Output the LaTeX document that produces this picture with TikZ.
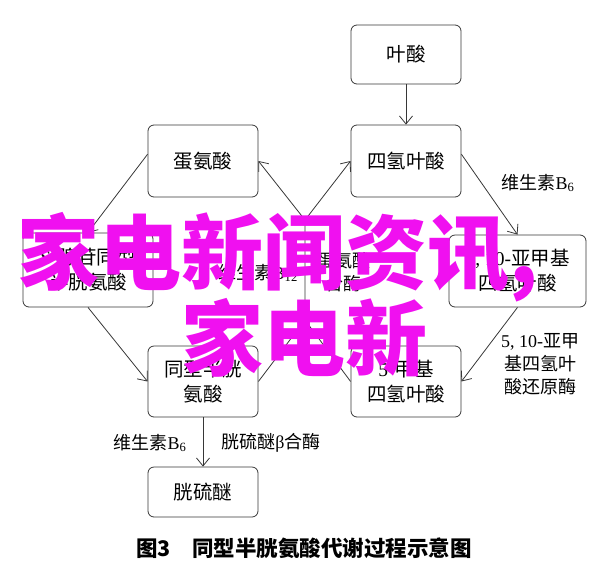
\documentclass[tikz,border=0pt]{standalone}
\usepackage{fontspec}
\setmainfont{Liberation Serif}
\newfontfamily\cjk{Noto Sans CJK SC}
\usetikzlibrary{arrows.meta}
\definecolor{ink}{RGB}{55,55,55}
\definecolor{wmark}{RGB}{240,16,240}
\newcommand\lat[1]{{\rmfamily #1}}

\begin{document}
\begin{tikzpicture}[x=1pt,y=-1pt,
  box/.style={draw=ink,line width=0.8pt,rounded corners=6pt,align=center,inner sep=0pt,
    font=\fontsize{19.5}{25}\selectfont\cjk},
  lab/.style={align=center,inner sep=0pt,font=\fontsize{18}{23}\selectfont\cjk},
  link/.style={draw=ink,line width=0.8pt},
  wm/.style={anchor=west,inner sep=0pt,text=wmark,font=\fontsize{82}{82}\selectfont\cjk\bfseries},
  >={Straight Barb[length=8pt,width=13pt]}]
\useasboundingbox (0,0) rectangle (600,574);
% boxes
\node[box,minimum width=110,minimum height=59] (folate) at (406,54.5) {叶酸};
\node[box,minimum width=110,minimum height=72] (met) at (203,161) {蛋氨酸};
\node[box,minimum width=110,minimum height=72] (thf) at (406,161) {四氢叶酸};
\node[box,minimum width=130,minimum height=74] (sam) at (88,270) {\lat{S-}腺苷同型\\半胱氨酸};
\node[box,minimum width=137,minimum height=72] (mthf) at (517.5,271) {\lat{5, 10-}亚甲基\\四氢叶酸};
\node[box,minimum width=110,minimum height=71] (hcy) at (203,381.5) {同型半胱\\氨酸};
\node[box,minimum width=110,minimum height=71] (mthf5) at (406,381.5) {\lat{5-}甲基\\四氢叶酸};
\node[box,minimum width=110,minimum height=50] (cysta) at (203,492) {胱硫醚};
% links
\draw[link,->] (folate.south) -- (thf.north);
\draw[link,->] (met.173) -- (sam.north);
\draw[link,->] (sam.south) -- (hcy.west);
\draw[link,->] (thf.7) -- (mthf.north);
\draw[link,->] (mthf.south) -- (mthf5.east);
\draw[link,->] (hcy.south) -- (cysta.north);
\coordinate (top) at (305,220);
\coordinate (bot) at (305,320);
\draw[link] (hcy.east) -- (bot) -- (top);
\draw[link] (mthf5.west) -- (bot);
\draw[link,->] (top) -- (met.east);
\draw[link,->] (top) -- (thf.west);
% labels
\node[lab] (b6a) at (538,183) {维生素\lat{B\textsubscript{6}}};
\node[lab] (mtr) at (540,364) {\lat{5, 10-}亚甲\\基四氢叶\\酸还原酶};
\node[lab,anchor=east] (b12) at (298,273) {维生素\lat{B\textsubscript{12}}};
\node[lab] (ms) at (343,272) {蛋氨酸\\合酶};
\node[lab] (b6b) at (150,443) {维生素\lat{B\textsubscript{6}}};
\node[lab] (cbs) at (271,443) {胱硫醚\lat{β}合酶};
\node[inner sep=0pt,font=\fontsize{21.5}{25}\selectfont\cjk\bfseries] (cap) at (304,548) {图3\quad 同型半胱氨酸代谢过程示意图};
% watermark
\node[wm] (wmA) at (17,257) {家电新闻资讯,};
\node[wm] (wmB) at (181,338) {家电新};
\end{tikzpicture}
\end{document}
